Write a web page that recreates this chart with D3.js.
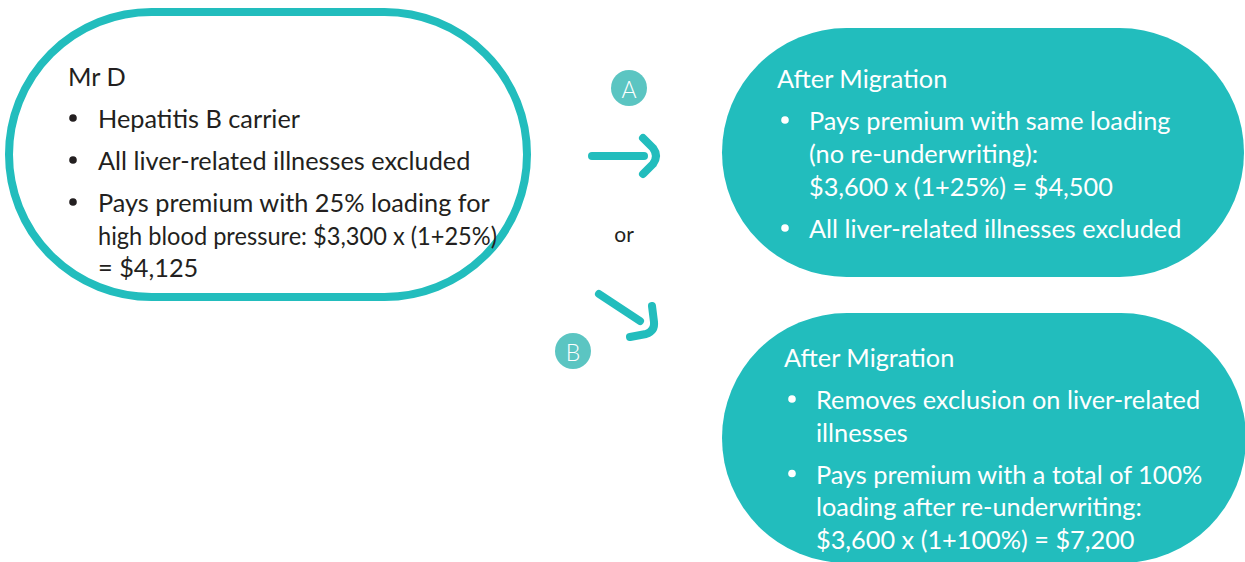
<!DOCTYPE html>
<html><head><meta charset="utf-8">
<script src="https://cdn.jsdelivr.net/npm/d3@7"></script>
<style>html,body{margin:0;padding:0;background:#fff;}svg{display:block;}</style>
</head><body>
<svg id="c" width="1245" height="562"></svg>
<script>
const teal = "#22bdbd", tealLight = "#5bc5c2", dark = "#231f20";
const leftTitle = "Mr D";
const leftItems = [["Hepatitis B carrier"],["All liver-related illnesses excluded"],["Pays premium with 25% loading for","high blood pressure: $3,300 x (1+25%)","= $4,125"]];
const aTitle = "After Migration";
const aItems = [["Pays premium with same loading","(no re-underwriting):","$3,600 x (1+25%) = $4,500"],["All liver-related illnesses excluded"]];
const bTitle = "After Migration";
const bItems = [["Removes exclusion on liver-related","illnesses"],["Pays premium with a total of 100%","loading after re-underwriting:","$3,600 x (1+100%) = $7,200"]];
const optionLabels = ["A","B"];
const orLabel = "or";

const svg = d3.select("#c");
const font = "Lato, 'Open Sans', sans-serif";
const fs = 25.3;

function pill(x,y,w,h,fill,stroke,sw){
  svg.append("rect").attr("x",x).attr("y",y).attr("width",w).attr("height",h)
    .attr("rx",h/2).attr("ry",h/2)
    .attr("fill",fill).attr("stroke",stroke).attr("stroke-width",sw);
}
function fit(t,x,maxRight){
  const len = t.node().getComputedTextLength();
  if (x + len > maxRight) t.attr("textLength", maxRight - x).attr("lengthAdjust","spacingAndGlyphs");
}
function block(title,items,tx,ty,bx,ix,lineH,gap,color,maxRight){
  const g = svg.append("g").attr("font-family",font).attr("font-size",fs).attr("fill",color);
  g.append("text").attr("x",tx).attr("y",ty).attr("dominant-baseline","central").text(title);
  let y = ty + gap;
  items.forEach(lines=>{
    g.append("circle").attr("cx",bx).attr("cy",y).attr("r",3.8).attr("fill",color);
    lines.forEach((ln,i)=>{
      const t = g.append("text").attr("x",ix).attr("y",y+i*lineH).attr("dominant-baseline","central").text(ln);
      fit(t,ix,maxRight);
    });
    y += (lines.length-1)*lineH + gap;
  });
}

pill(9,12,518,285,"#fff",teal,8);
block(leftTitle,leftItems,68,76,73,98,32.5,42,dark,497);

pill(722,28,522,249,teal,"none",0);
block(aTitle,aItems,777,78,785,809,33,42,"#fff",1190);

pill(722,313,524,250,teal,"none",0);
block(bTitle,bItems,784,357,792,816,32.5,42,"#fff",1205);

// arrows
const line = d3.line().curve(d3.curveLinear);
const arrowStyle = p => p.attr("fill","none").attr("stroke",teal).attr("stroke-width",8).attr("stroke-linecap","round").attr("stroke-linejoin","round");
arrowStyle(svg.append("path").attr("d",line([[592,156],[644,156]])));
arrowStyle(svg.append("path").attr("d","M643,138 L653,148 Q659,156 653,164 L643,174"));
arrowStyle(svg.append("path").attr("d",line([[599,294],[640,321]])));
arrowStyle(svg.append("path").attr("d","M652,306 L654,322 Q655,331 646,334 L630,337"));

// option circles
[[629,88],[573,351]].forEach((c,i)=>{
  svg.append("circle").attr("cx",c[0]).attr("cy",c[1]).attr("r",18).attr("fill",tealLight);
  svg.append("text").attr("x",c[0]).attr("y",c[1]+1).attr("text-anchor","middle").attr("dominant-baseline","central")
    .attr("font-family",font).attr("font-weight",300).attr("font-size",23).attr("fill","#fff").text(optionLabels[i]);
});
svg.append("text").attr("x",624).attr("y",233).attr("text-anchor","middle").attr("dominant-baseline","central")
  .attr("font-family",font).attr("font-size",21).attr("fill",dark).text(orLabel);
</script>
</body></html>
